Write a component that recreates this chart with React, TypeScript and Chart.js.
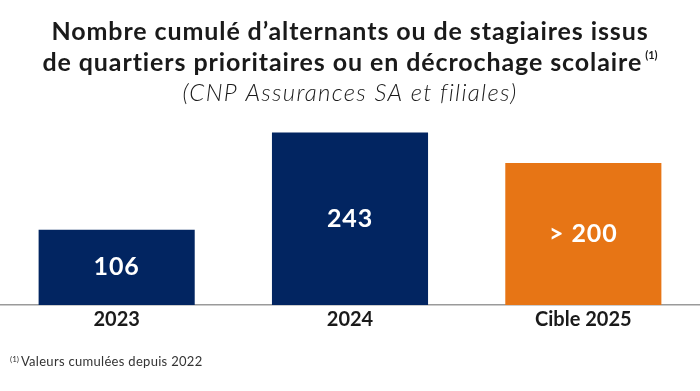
import React, { useEffect, useRef } from "react";
import { Chart, registerables } from "chart.js";

Chart.register(...registerables);

const categories = ["2023", "2024", "Cible 2025"];
const values = [106, 243, 200];
const valueLabels = ["106", "243", "> 200"];
const barColors = ["#022561", "#022561", "#E77515"];
const titleLines = [
  "Nombre cumulé d’alternants ou de stagiaires issus",
  "de quartiers prioritaires ou en décrochage scolaire",
];
const subtitle = "(CNP Assurances SA et filiales)";
const footnote = "Valeurs cumulées depuis 2022";

const FONT = "Lato, 'Open Sans', sans-serif";

const textPlugin = {
  id: "textPlugin",
  afterDraw(chart: any) {
    const ctx = chart.ctx;
    const W = chart.width;
    ctx.save();
    // Title
    ctx.fillStyle = "#1a1a1a";
    ctx.textBaseline = "middle";
    ctx.textAlign = "center";
    ctx.letterSpacing = "0.9px";
    ctx.font = `bold 25px ${FONT}`;
    ctx.fillText(titleLines[0], W / 2, 32);
    const l2 = titleLines[1];
    const w2 = ctx.measureText(l2).width;
    ctx.letterSpacing = "0px";
    ctx.font = `bold 11px ${FONT}`;
    const sup = "(1)";
    const ws = ctx.measureText(sup).width;
    const total = w2 + 3 + ws;
    const x0 = W / 2 - total / 2;
    ctx.textAlign = "left";
    ctx.letterSpacing = "0.9px";
    ctx.font = `bold 25px ${FONT}`;
    ctx.fillText(l2, x0, 63);
    ctx.letterSpacing = "0px";
    ctx.font = `bold 11px ${FONT}`;
    ctx.fillText(sup, x0 + w2 + 3, 55);
    // subtitle
    ctx.textAlign = "center";
    ctx.letterSpacing = "1.3px";
    ctx.font = `italic 300 24px ${FONT}`;
    ctx.fillText(subtitle, W / 2, 93);
    // footnote
    ctx.textAlign = "left";
    ctx.fillStyle = "#333333";
    ctx.letterSpacing = "0px";
    ctx.font = `8px ${FONT}`;
    ctx.fillText("(1)", 10, 359);
    const wsup = ctx.measureText("(1)").width;
    ctx.letterSpacing = "0.3px";
    ctx.font = `13px ${FONT}`;
    ctx.fillText(footnote, 10 + wsup + 2, 362);

    // value labels inside bars
    const meta = chart.getDatasetMeta(0);
    ctx.fillStyle = "#ffffff";
    ctx.textAlign = "center";
    ctx.letterSpacing = "0.9px";
    ctx.font = `bold 25px ${FONT}`;
    meta.data.forEach((bar: any, i: number) => {
      const yMid = (bar.y + bar.base) / 2;
      ctx.fillText(valueLabels[i], bar.x, yMid);
    });
    ctx.restore();
  },
};

export default function App() {
  const ref = useRef<HTMLCanvasElement>(null);
  useEffect(() => {
    if (!ref.current) return;
    const chart = new Chart(ref.current, {
      type: "bar",
      data: {
        labels: categories,
        datasets: [
          {
            data: values,
            backgroundColor: barColors,
            borderWidth: 0,
            categoryPercentage: 1,
            barPercentage: 0.669,
          },
        ],
      },
      options: {
        animation: false,
        responsive: true,
        maintainAspectRatio: false,
        layout: { padding: { top: 92, left: 0, right: 0, bottom: 56 } },
        plugins: {
          legend: { display: false },
          tooltip: { enabled: false },
          title: { display: false },
        },
        scales: {
          x: {
            grid: { display: false, drawTicks: false },
            border: { display: true, color: "#9a9a9a", width: 1.5 },
            ticks: {
              color: "#1a1a1a",
              font: { family: FONT, size: 20, weight: "bold" },
              padding: 3,
            },
          },
          y: {
            display: false,
            min: 0,
            max: 300,
          },
        },
      },
      plugins: [textPlugin],
    });
    return () => chart.destroy();
  }, []);
  return (
    <div style={{ position: "fixed", left: 0, top: 0, width: 700, height: 391, background: "#fff" }}>
      <canvas ref={ref} />
    </div>
  );
}
